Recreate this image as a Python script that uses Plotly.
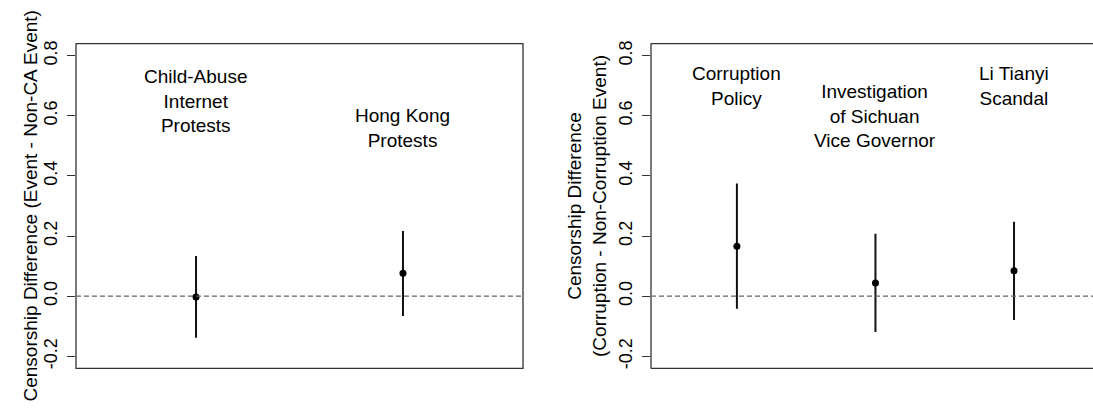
import plotly.graph_objects as go

# ---- data ----
left_events = ["Child-Abuse<br>Internet<br>Protests", "Hong Kong<br>Protests"]
left_x = [1, 2]
left_est = [-0.003, 0.076]
left_lo = [-0.138, -0.066]
left_hi = [0.134, 0.217]
left_label_y = [0.65, 0.56]

right_events = ["Corruption<br>Policy", "Investigation<br>of Sichuan<br>Vice Governor", "Li Tianyi<br>Scandal"]
right_x = [1, 2, 3]
right_est = [0.166, 0.044, 0.085]
right_lo = [-0.042, -0.119, -0.079]
right_hi = [0.375, 0.208, 0.248]
right_label_y = [0.70, 0.60, 0.70]

y_ticks = [-0.2, 0.0, 0.2, 0.4, 0.6, 0.8]
y_ticktext = ["-0.2", "0.0", "0.2", "0.4", "0.6", "0.8"]

left_title = "Censorship Difference (Event - Non-CA Event)"
right_title = "Censorship Difference<br>(Corruption - Non-Corruption Event)"

FONT = "Liberation Sans, Arial, Helvetica, sans-serif"
W, H = 1093, 408

fig = go.Figure()

def add_panel(xs, est, lo, hi, xa, ya):
    fig.add_trace(go.Scatter(
        x=xs, y=est, mode="markers",
        marker=dict(color="black", size=7),
        error_y=dict(type="data", symmetric=False,
                     array=[h - e for h, e in zip(hi, est)],
                     arrayminus=[e - l for e, l in zip(est, lo)],
                     width=0, thickness=2, color="#111"),
        xaxis=xa, yaxis=ya, showlegend=False, hoverinfo="skip"))

add_panel(left_x, left_est, left_lo, left_hi, "x", "y")
add_panel(right_x, right_est, right_lo, right_hi, "x2", "y2")

ydom = [(408 - 369) / H, (408 - 41) / H]
yax = dict(range=[-0.24, 0.84], tickvals=y_ticks, ticktext=y_ticktext,
           ticks="outside", ticklen=8, tickcolor="#333", tickwidth=1,
           tickangle=-90, tickfont=dict(family=FONT, size=18, color="black"),
           ticklabelstandoff=3,
           showgrid=False, zeroline=False, showline=False, domain=ydom)
xax = dict(showticklabels=False, ticks="", showgrid=False, zeroline=False, showline=False)

fig.update_layout(
    width=W, height=H, margin=dict(l=0, r=0, t=0, b=0),
    paper_bgcolor="white", plot_bgcolor="white",
    font=dict(family=FONT, color="black"),
    xaxis=dict(xax, range=[0.42, 2.58], domain=[76 / W, 523 / W]),
    yaxis=dict(yax, anchor="x"),
    xaxis2=dict(xax, range=[0.38, 3.57], domain=[651 / W, 1.0], anchor="y2"),
    yaxis2=dict(yax, anchor="x2"),
)

border = dict(color="#333", width=1.3)
shapes = []
# left panel full box
shapes.append(dict(type="rect", xref="x domain", yref="y domain", x0=0, x1=1, y0=0, y1=1, line=border))
# right panel: left, top, bottom (cut off at right)
for (x0, x1, y0, y1) in [(0, 0, 0, 1), (0, 1, 1, 1), (0, 1, 0, 0)]:
    shapes.append(dict(type="line", xref="x2 domain", yref="y2 domain", x0=x0, x1=x1, y0=y0, y1=y1, line=border))
# dashed zero lines
zero_line = dict(color="#666", width=1.3, dash="5px,3px")
shapes.append(dict(type="line", xref="x domain", yref="y", x0=0, x1=1, y0=0, y1=0, line=zero_line))
shapes.append(dict(type="line", xref="x2 domain", yref="y2", x0=0, x1=1, y0=0, y1=0, line=zero_line))
fig.update_layout(shapes=shapes)

ann = []
for x, y, t in zip(left_x, left_label_y, left_events):
    ann.append(dict(x=x, y=y, xref="x", yref="y", text=t, showarrow=False,
                    font=dict(family=FONT, size=19, color="black"), align="center"))
for x, y, t in zip(right_x, right_label_y, right_events):
    ann.append(dict(x=x, y=y, xref="x2", yref="y2", text=t, showarrow=False,
                    font=dict(family=FONT, size=19, color="black"), align="center"))
ann.append(dict(x=18 / W, y=(408 - 205) / H, xref="paper", yref="paper", text=left_title,
                textangle=-90, showarrow=False, font=dict(family=FONT, size=19, color="black")))
ann.append(dict(x=587 / W, y=(408 - 205) / H, xref="paper", yref="paper", text=right_title,
                textangle=-90, showarrow=False, font=dict(family=FONT, size=19, color="black")))
fig.update_layout(annotations=ann)

fig.write_html("out.html", config={"displayModeBar": False},
               post_script="document.body.style.margin='0';document.body.style.overflow='hidden';")
